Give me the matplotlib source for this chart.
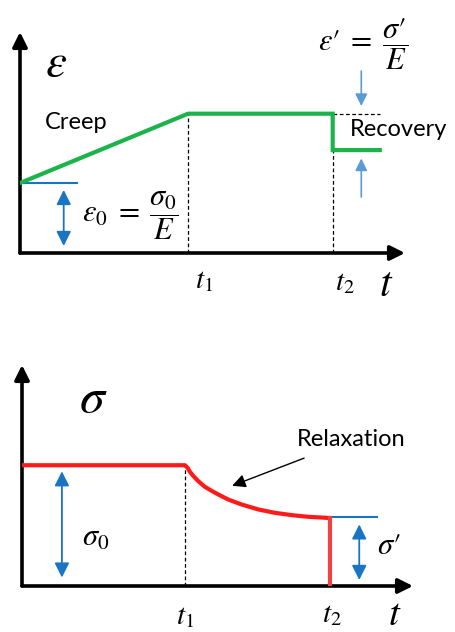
import matplotlib.pyplot as plt

plt.rcParams['mathtext.fontset'] = 'stix'
plt.rcParams['font.family'] = ['Lato', 'DejaVu Sans']

# time marks (units of t1)
t1, t2 = 1.0, 1.86

# creep / recovery: strain in units of eps0
creep_t = [0.0, 1.0, 1.86, 1.86, 2.14]
creep_eps = [1.0, 1.99, 1.99, 1.47, 1.47]

# relaxation: stress in units of sigma0
relax_t = [0.0, 1.0, 1.017, 1.031, 1.051, 1.082, 1.123, 1.164, 1.205, 1.266,
           1.348, 1.45, 1.552, 1.655, 1.757, 1.89]
relax_sig = [1.0, 1.0, 0.978, 0.945, 0.912, 0.868, 0.821, 0.788, 0.758, 0.716,
             0.675, 0.634, 0.606, 0.587, 0.573, 0.563]

W, H = 455, 632
fig = plt.figure(figsize=(W / 100, H / 100), dpi=100)


def px_axes(x0, y0, x1, y1, xmax, ymax):
    # axes placed by pixel box (top-left origin), x0,y0 = data origin
    ax = fig.add_axes([x0 / W, (H - y0) / H, (x1 - x0) / W, (y0 - y1) / H])
    ax.set_xlim(0, xmax)
    ax.set_ylim(0, ymax)
    ax.axis('off')
    for xy in [(1, 0), (0, 1)]:
        ax.annotate('', xy=xy, xytext=(0, 0), xycoords='axes fraction',
                    arrowprops=dict(arrowstyle='-|>', color='black', lw=2.6,
                                    mutation_scale=22, shrinkA=0, shrinkB=0))
    return ax


def double_arrow(ax, x, y0, y1, color):
    ax.annotate('', xy=(x, y1), xytext=(x, y0),
                arrowprops=dict(arrowstyle='<|-|>', color=color, lw=1.3,
                                mutation_scale=22, shrinkA=0, shrinkB=0))


blue = '#1a74c4'
light = '#5b9bd5'
dash = dict(color='black', lw=0.9, ls=(0, (3, 2)))

# ---- strain panel ----
ax1 = px_axes(20, 253, 405, 32, 2.29, 3.157)
ax1.plot(creep_t, creep_eps, color='#1bb34a', lw=3.0, solid_joinstyle='miter', zorder=3)
ax1.plot([t1, t1], [0, creep_eps[1]], **dash)
ax1.plot([t2, t2], [0, creep_eps[3]], **dash)
ax1.plot([t2, creep_t[-1]], [creep_eps[2], creep_eps[2]], **dash)
ax1.plot([0, 0.34], [1.0, 1.0], color=blue, lw=1.5)
double_arrow(ax1, 0.26, 0.1, 0.9, blue)
ax1.annotate('', xy=(2.03, 2.1), xytext=(2.03, 2.6),
             arrowprops=dict(arrowstyle='-|>', color=light, lw=1.2, mutation_scale=18,
                             shrinkA=0, shrinkB=0))
ax1.annotate('', xy=(2.03, 1.35), xytext=(2.03, 0.8),
             arrowprops=dict(arrowstyle='-|>', color=light, lw=1.2, mutation_scale=18,
                             shrinkA=0, shrinkB=0))

ax1.text(0.15, 2.72, r'$\varepsilon$', fontsize=34, va='center')
ax1.text(0.15, 1.86, 'Creep', fontsize=17, va='center')
ax1.text(1.96, 1.76, 'Recovery', fontsize=17, va='center')
ax1.text(0.37, 0.53, r'$\varepsilon_0\;=\;\dfrac{\sigma_0}{E}$', fontsize=22, va='center')
ax1.text(1.77, 2.97, r"$\varepsilon′\;=\;\dfrac{\sigma′}{E}$", fontsize=22, va='center')
ax1.text(1.095, -0.4, r'$t_1$', fontsize=21, ha='center', va='center')
ax1.text(1.93, -0.43, r'$t_2$', fontsize=21, ha='center', va='center')
ax1.text(2.18, -0.44, r'$t$', fontsize=30, ha='center', va='center')

# ---- stress panel ----
ax2 = px_axes(22, 586, 413, 365, 2.40, 1.83)
ax2.plot(relax_t, relax_sig, color='#ff1a1a', lw=3.0, zorder=3)
ax2.plot([relax_t[-1], relax_t[-1]], [relax_sig[-1], 0], color='#f04040', lw=3.0, zorder=3)
ax2.plot([t1, t1], [0, 1.0], **dash)
ax2.plot([relax_t[-1], 2.18], [relax_sig[-1] + 0.005, relax_sig[-1] + 0.005], color=blue, lw=1.5)
double_arrow(ax2, 0.245, 0.07, 0.95, blue)
double_arrow(ax2, 2.07, 0.05, 0.51, blue)
ax2.annotate('Relaxation', xy=(1.29, 0.83), xytext=(1.69, 1.21), fontsize=17,
             va='center', ha='left',
             arrowprops=dict(arrowstyle='-|>', color='black', lw=1.0,
                             mutation_scale=20, shrinkA=10, shrinkB=0))
ax2.text(0.35, 1.56, r'$\sigma$', fontsize=36, va='center')
ax2.text(0.37, 0.4, r'$\sigma_0$', fontsize=22, va='center')
ax2.text(2.18, 0.34, r"$\sigma′$", fontsize=22, va='center')
ax2.text(1.0, -0.26, r'$t_1$', fontsize=21, ha='center', va='center')
ax2.text(1.9, -0.24, r'$t_2$', fontsize=21, ha='center', va='center')
ax2.text(2.29, -0.23, r'$t$', fontsize=28, ha='center', va='center')

fig.savefig('out.png', dpi=100)
